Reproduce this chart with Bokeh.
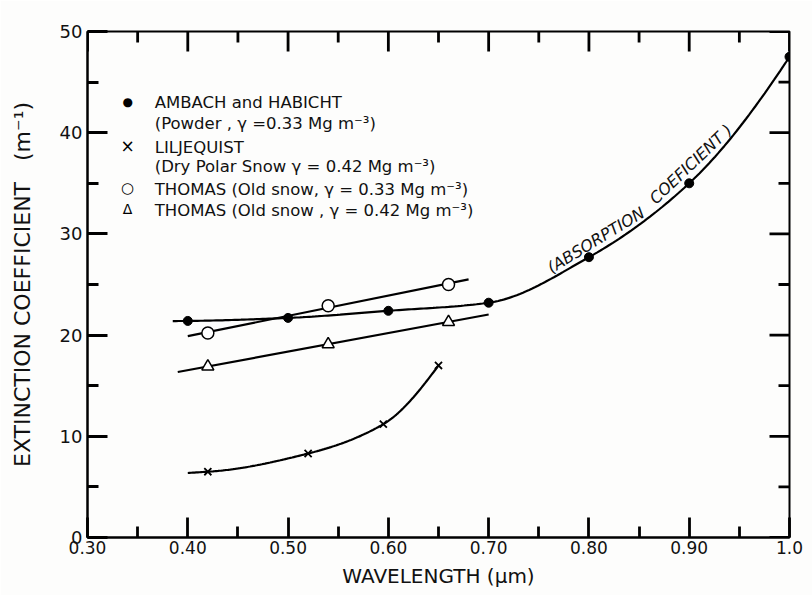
import numpy as np
from bokeh.plotting import figure
from bokeh.models import FixedTicker, Label, Range1d
from bokeh.embed import file_html
from bokeh.resources import INLINE

# ---------------- data ----------------
ambach_x = [0.40, 0.50, 0.60, 0.70, 0.80, 0.90, 1.00]
ambach_y = [21.4, 21.7, 22.4, 23.2, 27.7, 35.0, 47.5]

lilj_x = [0.42, 0.52, 0.595, 0.65]
lilj_y = [6.5, 8.3, 11.2, 17.0]

thomas33_x = [0.42, 0.54, 0.66]
thomas33_y = [20.2, 22.9, 25.0]

thomas42_x = [0.42, 0.54, 0.66]
thomas42_y = [16.9, 19.1, 21.3]

# drawn extent of each fitted line
ambach_span = [0.385, 1.0]
lilj_span = [0.40, 0.65]
thomas33_span = [0.40, 0.68]
thomas42_span = [0.39, 0.70]

x_ticks = [0.30, 0.40, 0.50, 0.60, 0.70, 0.80, 0.90, 1.00]
x_tick_labels = ["0.30", "0.40", "0.50", "0.60", "0.70", "0.80", "0.90", "1.0"]
x_minor = [0.35, 0.45, 0.55, 0.65, 0.75, 0.85, 0.95]
y_ticks = [0, 10, 20, 30, 40, 50]
y_tick_labels = ["0", "10", "20", "30", "40", "50"]
y_minor = [5, 15, 25, 35, 45]

legend_texts = [
    "AMBACH and HABICHT",
    "(Powder , \u03b3 =0.33 Mg m\u207b\u00b3)",
    "LILJEQUIST",
    "(Dry Polar Snow  \u03b3 = 0.42 Mg m\u207b\u00b3)",
    "THOMAS (Old snow, \u03b3 = 0.33 Mg m\u207b\u00b3)",
    "THOMAS (Old snow , \u03b3 = 0.42 Mg m\u207b\u00b3)",
]
legend_symbols = ["\u25cf", "\u00d7", "\u25cb", "\u0394"]
curve_words = ["(ABSORPTION", "COEFICIENT )"]


def pchip(xk, yk, xs):
    xk = np.asarray(xk, float)
    yk = np.asarray(yk, float)
    xs = np.atleast_1d(np.asarray(xs, float))
    h = np.diff(xk)
    d = np.diff(yk) / h
    n = len(xk)
    m = np.zeros(n)
    for k in range(1, n - 1):
        if d[k - 1] * d[k] <= 0:
            m[k] = 0.0
        else:
            w1 = 2 * h[k] + h[k - 1]
            w2 = h[k] + 2 * h[k - 1]
            m[k] = (w1 + w2) / (w1 / d[k - 1] + w2 / d[k])
    m[0] = ((2 * h[0] + h[1]) * d[0] - h[0] * d[1]) / (h[0] + h[1])
    if np.sign(m[0]) != np.sign(d[0]):
        m[0] = 0.0
    m[-1] = ((2 * h[-1] + h[-2]) * d[-1] - h[-1] * d[-2]) / (h[-1] + h[-2])
    if np.sign(m[-1]) != np.sign(d[-1]):
        m[-1] = 0.0
    out = []
    for x in xs:
        if x <= xk[0]:
            out.append(yk[0] + m[0] * (x - xk[0]))
            continue
        if x >= xk[-1]:
            out.append(yk[-1] + m[-1] * (x - xk[-1]))
            continue
        k = int(np.searchsorted(xk, x)) - 1
        t = (x - xk[k]) / h[k]
        h00 = 2 * t**3 - 3 * t**2 + 1
        h10 = t**3 - 2 * t**2 + t
        h01 = -2 * t**3 + 3 * t**2
        h11 = t**3 - t**2
        out.append(h00 * yk[k] + h10 * h[k] * m[k] + h01 * yk[k + 1] + h11 * h[k] * m[k + 1])
    return np.array(out)


def linfit(xk, yk, span):
    a, b = np.polyfit(xk, yk, 1)
    xs = np.array(span)
    return xs, a * xs + b


FONT = "DejaVu Sans"
FW, FH = 702, 506
X0, X1, Y0, Y1 = 0.30, 1.00, 0.0, 50.0
PX_X = FW / (X1 - X0)   # pixels per x unit
PX_Y = FH / (Y1 - Y0)   # pixels per y unit
MAJ, MIN = 20, 11       # tick lengths in pixels
TICK_W = 2.8

p = figure(frame_width=FW, frame_height=FH,
           x_range=Range1d(X0, X1), y_range=Range1d(Y0, Y1),
           output_backend="svg", toolbar_location=None,
           min_border_left=87, min_border_right=23, min_border_top=31, min_border_bottom=58,
           background_fill_color="#fdfdfc", border_fill_color="#fdfdfc")
p.xgrid.visible = False
p.ygrid.visible = False
p.outline_line_color = "black"
p.outline_line_width = 2

for ax in (p.xaxis[0], p.yaxis[0]):
    ax.axis_line_width = 2
    ax.axis_line_color = "black"
    ax.major_tick_in = MAJ
    ax.major_tick_out = 0
    ax.minor_tick_in = MIN
    ax.minor_tick_out = 0
    ax.major_tick_line_color = "black"
    ax.minor_tick_line_color = "black"
    ax.major_tick_line_width = TICK_W
    ax.minor_tick_line_width = TICK_W
    ax.major_label_text_font = FONT
    ax.major_label_text_color = "#111111"
    ax.axis_label_text_font = FONT
    ax.axis_label_text_font_style = "normal"
    ax.axis_label_text_color = "#111111"

p.xaxis.ticker = FixedTicker(ticks=x_ticks, minor_ticks=x_minor)
p.yaxis.ticker = FixedTicker(ticks=y_ticks, minor_ticks=y_minor)
p.xaxis.major_label_overrides = dict(zip(x_ticks, x_tick_labels))
p.yaxis.major_label_overrides = dict(zip(y_ticks, y_tick_labels))
p.xaxis.major_label_text_font_size = "17px"
p.yaxis.major_label_text_font_size = "18px"
p.xaxis.major_label_standoff = 3
p.yaxis.major_label_standoff = 5
p.xaxis.axis_label = "WAVELENGTH (\u03bcm)"
p.xaxis.axis_label_text_font_size = "20px"
p.xaxis.axis_label_standoff = 7
p.yaxis.axis_label = "EXTINCTION COEFFICIENT\u00a0\u00a0\u00a0(m\u207b\u00b9)"
p.yaxis.axis_label_text_font_size = "22px"
p.yaxis.axis_label_standoff = 22

# ---------------- fitted lines ----------------
ax_ = np.linspace(ambach_span[0], ambach_span[1], 200)
p.line(ax_, pchip(ambach_x, ambach_y, ax_), line_color="black", line_width=2.2)
lx = np.linspace(lilj_span[0], lilj_span[1], 150)
p.line(lx, pchip(lilj_x, lilj_y, lx), line_color="black", line_width=2.2)
tx, ty = linfit(thomas33_x, thomas33_y, thomas33_span)
p.line(tx, ty, line_color="black", line_width=2.2)
tx, ty = linfit(thomas42_x, thomas42_y, thomas42_span)
p.line(tx, ty, line_color="black", line_width=2.2)

# ---------------- points ----------------
p.scatter(ambach_x, ambach_y, marker="circle", size=9, fill_color="black", line_color="black")
p.scatter(lilj_x, lilj_y, marker="x", size=10, line_color="black", line_width=1.8)
p.scatter(thomas33_x, thomas33_y, marker="circle", size=12, fill_color="white",
          line_color="black", line_width=1.5)
p.scatter(thomas42_x, thomas42_y, marker="triangle", size=12, fill_color="white",
          line_color="black", line_width=1.5)

# ---------------- inward ticks on the top and right edges (from the tick lists) ----------------
for xv, L in [(v, MAJ) for v in x_ticks] + [(v, MIN) for v in x_minor]:
    p.line([xv, xv], [Y1, Y1 - L / PX_Y], line_color="black", line_width=TICK_W)
for yv, L in [(v, MAJ) for v in y_ticks] + [(v, MIN) for v in y_minor]:
    p.line([X1, X1 - L / PX_X], [yv, yv], line_color="black", line_width=TICK_W)

# ---------------- legend (text) ----------------
sym_x = 0.340
txt_x = 0.367
sym_y = [43.0, 38.7, 34.5, 32.5]
txt_y = [43.0, 40.9, 38.5, 36.7, 34.4, 32.3]
sym_size = ["12px", "17px", "15px", "14px"]
for s, yy, fs in zip(legend_symbols, sym_y, sym_size):
    p.add_layout(Label(x=sym_x, y=yy, text=s, text_font=FONT, text_font_size=fs,
                       text_align="center", text_baseline="middle", text_color="black"))
for t, yy in zip(legend_texts, txt_y):
    p.add_layout(Label(x=txt_x, y=yy, text=t, text_font=FONT, text_font_size="16.5px",
                       text_align="left", text_baseline="middle", text_color="#111111"))

# ---------------- curve annotation, following the absorption curve ----------------
word_x = [0.760, 0.863]
word_lift_px = [11, 14]
word_angle = [31.5, 43.5]
for w, wx, lift, ang in zip(curve_words, word_x, word_lift_px, word_angle):
    wy = float(pchip(ambach_x, ambach_y, [wx])[0]) + lift / PX_Y
    p.add_layout(Label(x=wx, y=wy, text=w, angle=ang, angle_units="deg",
                       text_font=FONT, text_font_size="16px", text_font_style="italic",
                       text_align="left", text_baseline="alphabetic", text_color="#111111"))

open("out.html", "w").write(file_html(p, INLINE))
